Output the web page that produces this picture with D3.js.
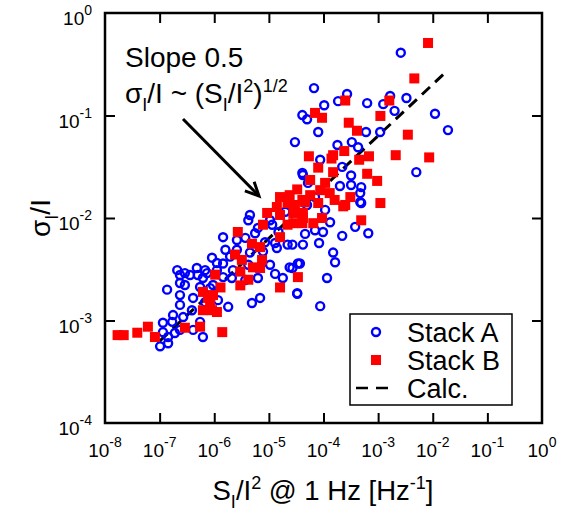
<!DOCTYPE html>
<html><head><meta charset="utf-8">
<script src="https://cdn.jsdelivr.net/npm/d3@7"></script>
<style>body{margin:0;background:#fff}svg{display:block}text{font-family:"Liberation Sans",Arial,Helvetica,sans-serif;fill:#000}</style>
</head><body><svg id="c" width="570" height="512"></svg>
<script>
// ---- data ----
const xTickExps = [-8,-7,-6,-5,-4,-3,-2,-1,0];
const yTickExps = [-4,-3,-2,-1,0];
const seriesNames = ["Stack A","Stack B","Calc."];
const stackA = [[2.6e-3,0.41],[1.66e-3,0.155],[3.3e-3,0.148],[2.0e-3,0.111],[1.1e-2,0.104],[1.9e-2,7.2e-2],[5.0e-3,2.8e-2],[6.7e-5,0.185],[2.7e-4,0.162],[1.85e-4,0.138],[1.03e-4,0.126],[6.3e-4,0.132],[1.24e-3,0.129],[4.1e-5,0.101],[5.0e-5,9.2e-2],[8.0e-5,6.9e-2],[1.09e-3,6.9e-2],[6.0e-4,6.9e-2],[3.0e-5,5.5e-2],[1.8e-4,5.15e-2],[3.3e-4,5.5e-2],[4.3e-4,4.9e-2],[8.7e-5,3.7e-2],[2.2e-4,3.15e-2],[4.1e-5,2.75e-2],[3.2e-4,2.6e-2],[4.9e-4,2.0e-2],[2.0e-4,2.05e-2],[3.2e-4,2.1e-2],[4.7e-4,1.75e-2],[4.7e-4,1.43e-2],[5.0e-5,1.34e-2],[4.2e-5,2.63e-2],[5.2e-5,2.2e-2],[4.5e-6,1.07e-2],[4.2e-6,9.5e-3],[1.15e-5,8.6e-3],[1.5e-5,7.3e-3],[5.6e-6,7.1e-3],[1.45e-6,6.5e-3],[2.6e-6,6.1e-3],[3.7e-6,6.4e-3],[8.5e-6,5.8e-3],[1.3e-5,5.7e-3],[2.2e-5,5.5e-3],[1.6e-6,4.9e-3],[2.6e-6,4.9e-3],[1.4e-5,5.1e-3],[4.5e-6,4.6e-3],[7.8e-6,4.7e-3],[9.1e-7,4.1e-3],[1.45e-6,3.6e-3],[1.95e-6,4.2e-3],[4.2e-6,3.5e-3],[1.05e-5,3.5e-3],[2.4e-5,3.3e-3],[3.4e-5,3.6e-3],[6.8e-7,3.1e-3],[1.12e-6,3.1e-3],[2.2e-6,3.1e-3],[1.3e-5,2.85e-3],[1.8e-5,2.6e-3],[6.2e-7,2.6e-3],[1.45e-6,2.65e-3],[2.1e-6,2.6e-3],[3.7e-6,2.48e-3],[6.3e-6,2.6e-3],[9.5e-7,2.22e-3],[3.3e-5,1.85e-3],[6.9e-6,1.66e-3],[4.9e-6,1.48e-3],[1.8e-6,1.36e-3],[6.8e-7,1.51e-3],[1.12e-6,3.64e-3],[2.1e-7,3.1e-3],[2.36e-7,2.78e-3],[2.9e-7,2.9e-3],[4.8e-7,3.25e-3],[3.6e-7,2.78e-3],[5.0e-7,2.78e-3],[7.4e-7,2.9e-3],[2.36e-7,2.32e-3],[2.9e-7,2.22e-3],[1.37e-7,2.0e-3],[2.36e-7,1.77e-3],[5.5e-7,2.12e-3],[8.4e-7,2.07e-3],[4.1e-7,1.66e-3],[2.36e-7,1.42e-3],[1.17e-6,1.58e-3],[3.9e-7,1.26e-3],[1.76e-7,1.13e-3],[2.7e-7,1.08e-3],[1.15e-7,9.5e-4],[1.7e-7,9.7e-4],[5.5e-7,9.7e-4],[1.15e-7,7.7e-4],[1.43e-7,6.9e-4],[1.9e-7,7.55e-4],[2.36e-7,8.1e-4],[4.1e-7,8.1e-4],[6.2e-7,6.9e-4],[1.02e-7,5.6e-4],[1.43e-7,6.0e-4],[1.32e-4,9.1e-3],[3.8e-4,8.2e-3],[6.6e-4,7.1e-3],[2.2e-4,6.7e-3],[9.8e-5,7.3e-3],[7.0e-5,7.6e-3],[4.6e-5,7.0e-3],[4.2e-5,5.5e-3],[8.3e-5,5.7e-3],[2.7e-5,5.5e-3],[1.5e-4,4.6e-3],[1.63e-4,3.7e-3],[3.7e-5,3.6e-3],[2.7e-5,3.25e-3],[1.16e-4,2.6e-3],[3.3e-5,1.82e-3],[8.7e-5,1.38e-3],[4.9e-4,1.4e-2],[3.7e-5,1.25e-2],[7.0e-5,1.6e-2],[1.07e-4,1.2e-2],[2.0e-5,1.15e-2],[1.05e-5,9.5e-3],[6.3e-6,8.0e-3]];
const stackB = [[8.2e-3,0.51],[4.6e-3,0.23],[1.6e-3,0.14],[3.5e-3,6.5e-2],[2.1e-3,4.1e-2],[8.6e-3,3.9e-2],[2.5e-4,0.14],[1.1e-3,9.9e-2],[7.0e-5,0.106],[9.4e-5,9.5e-2],[2.9e-4,8.5e-2],[4.1e-4,7.1e-2],[2.4e-4,4.5e-2],[5.4e-5,4.0e-2],[1.5e-4,4.1e-2],[6.8e-4,4.0e-2],[4.5e-4,3.7e-2],[1.4e-4,3.8e-2],[8.0e-5,3.1e-2],[6.3e-4,2.7e-2],[9.6e-4,2.3e-2],[1.5e-4,2.8e-2],[5.7e-5,2.35e-2],[3.3e-5,1.9e-2],[1.07e-4,2.2e-2],[1.3e-4,1.75e-2],[3.1e-4,1.6e-2],[1.1e-3,1.4e-2],[2.3e-4,1.3e-2],[8.0e-5,1.4e-2],[1.6e-5,1.6e-2],[2.2e-5,1.4e-2],[4.1e-5,1.5e-2],[1.4e-5,1.28e-2],[9.3e-6,1.12e-2],[1.6e-5,1.07e-2],[2.8e-5,1.12e-2],[4.2e-5,1.12e-2],[7.8e-6,8.6e-3],[2.2e-5,8.6e-3],[4.1e-5,8.9e-3],[2.7e-6,7.3e-3],[1.6e-5,6.5e-3],[4.9e-6,5.6e-3],[6.9e-6,5.2e-3],[2.4e-6,4.4e-3],[3.2e-6,3.9e-3],[7.5e-6,3.9e-3],[5.1e-6,3.3e-3],[3.0e-6,3.0e-3],[6.9e-6,3.25e-3],[1.04e-6,2.8e-3],[3.4e-5,2.65e-3],[3.0e-6,2.2e-3],[4.2e-6,2.5e-3],[1.3e-6,2.1e-3],[6.2e-7,1.9e-3],[1.6e-5,2.1e-3],[7.7e-7,1.66e-3],[9.5e-7,1.77e-3],[8.4e-7,1.5e-3],[6.2e-7,1.26e-3],[9.1e-7,1.26e-3],[1.12e-6,1.21e-3],[2.9e-7,8.5e-4],[5.5e-7,8.7e-4],[6.1e-8,8.7e-4],[3.9e-8,7.6e-4],[2.2e-8,7.2e-4],[8.2e-8,6.9e-4],[9.4e-5,1.0e-2],[4.2e-5,1.0e-2],[2.8e-5,8.9e-3],[6.5e-5,8.9e-3],[4.9e-4,9.5e-3],[2.5e-4,1.34e-2],[4.6e-5,1.43e-2],[1.4e-6,7.7e-4],[1.7e-8,7.2e-4],[3.0e-5,1.34e-2],[5.7e-5,1.67e-2],[8.7e-5,1.87e-2],[1.6e-4,1.5e-2],[2.4e-5,1.67e-2]];
const calcX = [1e-7, 1.8e-2];
const calcY = [6.3e-4, 0.27];

// ---- layout ----
const svg = d3.select("#c");
const L=105, R=542, T=13, B=423;
const x = d3.scaleLog().domain([1e-8,1]).range([L,R]);
const y = d3.scaleLog().domain([1e-4,1]).range([B,T]);

// ticks (inward, all four sides)
const xInner = xTickExps.slice(1,-1).map(e=>Math.pow(10,e));
const yInner = yTickExps.slice(1,-1).map(e=>Math.pow(10,e));
function styleAxis(g){ g.select(".domain").remove(); g.selectAll("line").attr("stroke","#000").attr("stroke-width",2); g.selectAll("text").remove(); }
svg.append("g").attr("transform",`translate(0,${B})`).call(d3.axisBottom(x).tickValues(xInner).tickSizeInner(-10).tickSizeOuter(0)).call(styleAxis);
svg.append("g").attr("transform",`translate(0,${T})`).call(d3.axisTop(x).tickValues(xInner).tickSizeInner(-10).tickSizeOuter(0)).call(styleAxis);
svg.append("g").attr("transform",`translate(${L},0)`).call(d3.axisLeft(y).tickValues(yInner).tickSizeInner(-10).tickSizeOuter(0)).call(styleAxis);
svg.append("g").attr("transform",`translate(${R},0)`).call(d3.axisRight(y).tickValues(yInner).tickSizeInner(-10).tickSizeOuter(0)).call(styleAxis);

// tick labels
xTickExps.forEach(e=>{
  const t = svg.append("text").attr("x",x(Math.pow(10,e))).attr("y",457).attr("text-anchor","middle").attr("font-size",19);
  t.append("tspan").text("10");
  t.append("tspan").attr("dy",-10).attr("font-size",14).text(String(e));
});
yTickExps.forEach(e=>{
  const t = svg.append("text").attr("x",92).attr("y",y(Math.pow(10,e))+12).attr("text-anchor","end").attr("font-size",19);
  t.append("tspan").text("10");
  t.append("tspan").attr("dy",-10).attr("font-size",14).text(String(e));
});

// axis titles
const xt = svg.append("text").attr("x",323).attr("y",500).attr("text-anchor","middle").attr("font-size",27.5);
xt.append("tspan").text("S");
xt.append("tspan").attr("dy",8).attr("font-size",18).text("I");
xt.append("tspan").attr("dy",-8).text("/I");
xt.append("tspan").attr("dy",-11).attr("font-size",18).text("2");
xt.append("tspan").attr("dy",11).text(" @ 1 Hz [Hz");
xt.append("tspan").attr("dy",-11).attr("font-size",18).text("-1");
xt.append("tspan").attr("dy",11).text("]");

const yt = svg.append("text").attr("transform","translate(50,218) rotate(-90)").attr("text-anchor","middle").attr("font-size",28);
yt.append("tspan").text("σ");
yt.append("tspan").attr("dy",8).attr("font-size",18).text("I");
yt.append("tspan").attr("dy",-8).text("/I");

// calc line
const calcPts = calcX.map((v,i)=>[v,calcY[i]]);
svg.append("path").datum(calcPts)
  .attr("d", d3.line().x(d=>x(d[0])).y(d=>y(d[1])))
  .attr("fill","none").attr("stroke","#000").attr("stroke-width",3).attr("stroke-dasharray","11,7");

// stack A circles
svg.append("g").selectAll("circle").data(stackA).join("circle")
  .attr("cx",d=>x(d[0])).attr("cy",d=>y(d[1])).attr("r",4)
  .attr("fill","none").attr("stroke","#0000ff").attr("stroke-width",2.4);

// stack B squares
svg.append("g").selectAll("rect").data(stackB).join("rect")
  .attr("x",d=>x(d[0])-5).attr("y",d=>y(d[1])-5).attr("width",10).attr("height",10)
  .attr("fill","#ff0000");

// frame
svg.append("rect").attr("x",L).attr("y",T).attr("width",R-L).attr("height",B-T)
  .attr("fill","none").attr("stroke","#000").attr("stroke-width",2.5);

// annotation
svg.append("text").attr("x",125).attr("y",67).attr("font-size",28).text("Slope 0.5");
const an = svg.append("text").attr("x",125).attr("y",103).attr("font-size",28);
an.append("tspan").text("σ");
an.append("tspan").attr("dy",8).attr("font-size",18).text("I");
an.append("tspan").attr("dy",-8).text("/I ~ (S");
an.append("tspan").attr("dy",8).attr("font-size",18).text("I");
an.append("tspan").attr("dy",-8).text("/I");
an.append("tspan").attr("dy",-11).attr("font-size",18).text("2");
an.append("tspan").attr("dy",11).text(")");
an.append("tspan").attr("dy",-11).attr("font-size",18).text("1/2");

// arrow
const a0=[183,119], a1=[259,196];
const ang = Math.atan2(a1[1]-a0[1], a1[0]-a0[0]);
svg.append("line").attr("x1",a0[0]).attr("y1",a0[1]).attr("x2",a1[0]).attr("y2",a1[1]).attr("stroke","#000").attr("stroke-width",3);
const hl=15, ha=Math.PI/7;
svg.append("path").attr("d",`M${a1[0]-hl*Math.cos(ang-ha)},${a1[1]-hl*Math.sin(ang-ha)} L${a1[0]},${a1[1]} L${a1[0]-hl*Math.cos(ang+ha)},${a1[1]-hl*Math.sin(ang+ha)}`)
  .attr("fill","none").attr("stroke","#000").attr("stroke-width",3);

// legend
const lg = svg.append("g");
lg.append("rect").attr("x",350).attr("y",314).attr("width",162).attr("height",91).attr("fill","#fff").attr("stroke","#000").attr("stroke-width",1.5);
const rows=[332,360,388];
lg.append("circle").attr("cx",376).attr("cy",rows[0]).attr("r",4).attr("fill","none").attr("stroke","#0000ff").attr("stroke-width",2.4);
lg.append("rect").attr("x",371).attr("y",rows[1]-5).attr("width",10).attr("height",10).attr("fill","#ff0000");
lg.append("line").attr("x1",356).attr("x2",389).attr("y1",rows[2]).attr("y2",rows[2]).attr("stroke","#000").attr("stroke-width",2.5).attr("stroke-dasharray","12,8");
seriesNames.forEach((n,i)=>{
  lg.append("text").attr("x",407).attr("y",rows[i]+10).attr("font-size",27).text(n);
});
</script></body></html>
